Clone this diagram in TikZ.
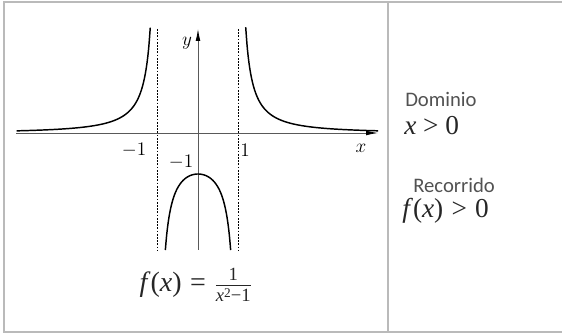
\documentclass[tikz,border=0pt]{standalone}
\usepackage{fontspec}
\newfontfamily\carlito{Carlito}
\newfontfamily\cambria{Liberation Serif}
\usetikzlibrary{arrows.meta}

\begin{document}
\begin{tikzpicture}[
  x=0.75pt, y=-0.75pt,
  frame/.style={draw=black!27, line width=1.1pt},
  axis/.style={draw=black!65, line width=0.6pt, -{Latex[length=9pt, width=3.6pt, color=black]}},
  asym/.style={draw, line width=0.6pt, dash pattern=on 1.4pt off 1pt},
  curve/.style={draw, line width=1.1pt, smooth, samples=90},
  lbl/.style={font=\fontsize{15.5}{18}\selectfont, inner sep=0pt},
  head/.style={font=\carlito\fontsize{15.5}{18}\selectfont, text=black!68, anchor=base west, inner sep=0pt},
  cond/.style={font=\cambria\fontsize{20.5}{24}\selectfont, text=black!85, anchor=base west, inner sep=0pt}
]
  \useasboundingbox (0,0) rectangle (562,335);

  \coordinate (tl) at (4,2);
  \coordinate (tr) at (562,2);
  \coordinate (bl) at (4,332);
  \coordinate (br) at (562,332);
  \coordinate (dt) at (388,2);
  \coordinate (db) at (388,332);
  \draw[frame] (tr) -- (tl) -- (bl) -- (br);
  \draw[frame] (dt) -- (db);

  \coordinate (xl) at (16,133);
  \coordinate (xr) at (378,133);
  \coordinate (yb) at (198,250);
  \coordinate (yt) at (198,29);
  \draw[axis] (xl) -- (xr);
  \draw[axis] (yb) -- (yt);

  \coordinate (al) at (157,29);
  \coordinate (alb) at (157,250);
  \coordinate (ar) at (238,29);
  \coordinate (arb) at (238,250);
  \draw[asym] (al) -- (alb);
  \draw[asym] (ar) -- (arb);

  \draw[curve, domain=-4.48:-1.178] plot ({198+40.5*\x}, {133-41/(\x*\x-1)});
  \draw[curve, domain=1.178:4.45] plot ({198+40.5*\x}, {133-41/(\x*\x-1)});
  \draw[curve, domain=-0.806:0.806] plot ({198+40.5*\x}, {133-41/(\x*\x-1)});

  \node[lbl] (mone) at (134,150) {$-1$};
  \node[lbl] (one) at (245,150) {$1$};
  \node[lbl] (xlab) at (361,148) {$x$};
  \node[lbl] (ylab) at (187,43) {$y$};
  \node[lbl] (ymone) at (181,162) {$-1$};

  \node[font=\cambria\fontsize{21}{24}\selectfont, text=black!85, inner sep=0pt] (fx) at (196,285)
    {\itshape f\/\upshape(\itshape x\upshape)\hspace{0.3em}=\hspace{0.3em}$\frac{\hbox{\cambria\fontsize{14}{15}\selectfont 1}}{\hbox{\cambria\fontsize{14}{15}\selectfont\itshape x\upshape\raisebox{0.45ex}{\fontsize{10}{11}\selectfont 2}−1}}$};

  \node[head] (dom) at (405,107) {Dominio};
  \node[cond] (domv) at (404,135) {\itshape x\upshape\ > 0};
  \node[head] (rec) at (413,193) {Recorrido};
  \node[cond] (recv) at (402,218) {\itshape f\/\upshape(\itshape x\upshape)\hspace{0.3em}>\hspace{0.3em}0};
\end{tikzpicture}
\end{document}
